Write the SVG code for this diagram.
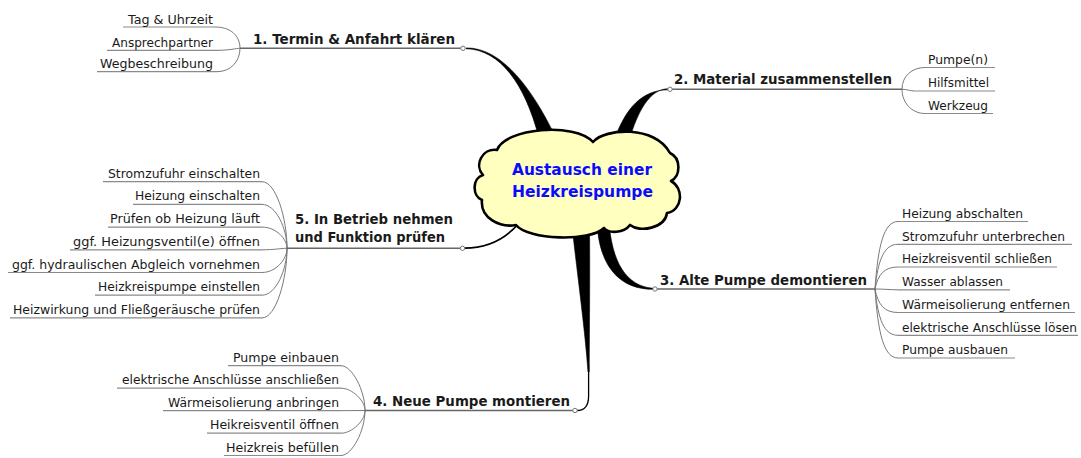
<svg xmlns="http://www.w3.org/2000/svg" width="1081" height="458" viewBox="0 0 1081 458">
<style>
.main{font-family:"DejaVu Sans",Verdana,sans-serif;font-weight:bold;font-size:13.5px;fill:#1a1a1a}
.sub{font-family:"DejaVu Sans",Tahoma,sans-serif;font-size:12px;fill:#1a1a1a}
.ctr{font-family:"DejaVu Sans",Verdana,sans-serif;font-weight:bold;font-size:15px;fill:#0a0aff}
.ul{stroke:#8a8a8a;stroke-width:1.2;fill:none}
.mul{stroke:#666;stroke-width:1.5;fill:none}
.cv{stroke:#7a7a7a;stroke-width:1;fill:none}
.taper{fill:#000;stroke:#000;stroke-width:0.6}
.dot{fill:#fff;stroke:#777;stroke-width:1}
</style>
<rect width="1081" height="458" fill="#fff"/>
<g id="connectors">
  <path class="taper" d="M466,48.7 C500,49.5 525,84 539,138 L556,138 C534,92 503,47.2 466,47.9 Z"/>
  <path class="taper" d="M668,89.8 C642,90 626,108 615,138 L630,138 C637,114 649,88.8 668,88.8 Z"/>
  <path class="taper" d="M597,222 C599,268 621,289.5 653,289.3 L653,288.3 C626,286 612,262 609,222 Z"/>
  <path class="taper" d="M572,226 C578,280 585,330 588,372 L589.2,372 C589.5,320 590,270 589.5,226 Z"/>
  <path d="M588.6,365 L588.6,396 C588.6,405 585,410.5 577,410.5" stroke="#000" stroke-width="1.3" fill="none"/>
  <path d="M464.5,248.2 C488,248 506,238.5 519,223" stroke="#000" stroke-width="1.8" fill="none"/>
  <path class="cv" d="M215,27 C231,27 240,36 240,48.3"/>
  <path class="cv" d="M218,50.3 C230,50.3 236,48.3 240,48.3"/>
  <path class="cv" d="M217,71.7 C231,71.7 240,61 240,48.3"/>
  <path class="cv" d="M902,89.3 C902,76 912,67.5 925,67.5"/>
  <path class="cv" d="M902,89.3 C907,89.3 910,91 915,91"/>
  <path class="cv" d="M902,89.3 C902,103 912,113.5 925,113.5"/>
  <path class="cv" d="M875,289 C878,245.1 884,221.5 898,221.5"/>
  <path class="cv" d="M875,289 C878,259.9 884,244.3 898,244.3"/>
  <path class="cv" d="M875,289 C878,274.7 884,267 898,267"/>
  <path class="cv" d="M875,289 C884,289 890,289.8 898,289.8"/>
  <path class="cv" d="M875,289 C878,304.3 884,312.5 898,312.5"/>
  <path class="cv" d="M875,289 C878,319.1 884,335.3 898,335.3"/>
  <path class="cv" d="M875,289 C878,333.8 884,358 898,358"/>
  <path class="cv" d="M262,181.7 C276,181.7 287,218.3 287,248.3"/>
  <path class="cv" d="M262,204.4 C276,204.4 287,228.5 287,248.3"/>
  <path class="cv" d="M262,227.1 C276,227.1 287,238.8 287,248.3"/>
  <path class="cv" d="M262,249.8 C275,249.8 280,248.3 287,248.3"/>
  <path class="cv" d="M262,272.5 C276,272.5 287,259.2 287,248.3"/>
  <path class="cv" d="M262,295.2 C276,295.2 287,269.4 287,248.3"/>
  <path class="cv" d="M262,317.9 C276,317.9 287,279.6 287,248.3"/>
  <path class="cv" d="M341,365.7 C352,365.7 365,390.3 365,410.5"/>
  <path class="cv" d="M341,388.2 C352,388.2 365,400.5 365,410.5"/>
  <path class="cv" d="M341,410.7 L365,410.5"/>
  <path class="cv" d="M341,433.2 C352,433.2 365,420.7 365,410.5"/>
  <path class="cv" d="M341,455.5 C352,455.5 365,430.8 365,410.5"/>
</g>
<g id="center">
  <path d="M497,150 C505,128 575,122 593,142 C605,128 655,125 670,153 C681,158 681,176 671,181 C684,188 683,210 667,213 C665,228 640,233 630,225 C624,233 609,234 604,228 C590,242 528,240 516,225 C500,228 480,218 482,200 C472,196 472,178 483,175 C474,165 482,148 497,150 Z" fill="#ffffc0" stroke="#000" stroke-width="2.6" stroke-linejoin="round"/>
  <text class="ctr" x="512" y="175" textLength="140" lengthAdjust="spacingAndGlyphs">Austausch einer</text>
  <text class="ctr" x="512" y="197" textLength="141" lengthAdjust="spacingAndGlyphs">Heizkreispumpe</text>
</g>
<g id="branch1">
  <path class="mul" d="M240,48.3 H463"/>
  <text class="main" x="253" y="44" textLength="202" lengthAdjust="spacingAndGlyphs">1. Termin &amp; Anfahrt klären</text>
  <circle class="dot" cx="463" cy="48.3" r="2.2"/>
</g>
<g id="b1-subs">
  <path class="ul" d="M123,27 H215 M107,50.3 H218 M97,71.7 H217"/>
  <text class="sub" x="128" y="23.5" textLength="85" lengthAdjust="spacingAndGlyphs">Tag &amp; Uhrzeit</text>
  <text class="sub" x="112" y="46.5" textLength="101" lengthAdjust="spacingAndGlyphs">Ansprechpartner</text>
  <text class="sub" x="100" y="68" textLength="113" lengthAdjust="spacingAndGlyphs">Wegbeschreibung</text>
</g>
<g id="branch2">
  <path class="mul" d="M670,89.3 H902"/>
  <text class="main" x="674" y="84.3" textLength="218" lengthAdjust="spacingAndGlyphs">2. Material zusammenstellen</text>
  <circle class="dot" cx="670" cy="89.3" r="2.2"/>
</g>
<g id="b2-subs">
  <path class="ul" d="M925,67.5 H995 M915,91 H995 M925,113.5 H993"/>
  <text class="sub" x="928" y="64" textLength="60" lengthAdjust="spacingAndGlyphs">Pumpe(n)</text>
  <text class="sub" x="928" y="87.3" textLength="61" lengthAdjust="spacingAndGlyphs">Hilfsmittel</text>
  <text class="sub" x="928" y="110" textLength="60" lengthAdjust="spacingAndGlyphs">Werkzeug</text>
</g>
<g id="branch3">
  <path class="mul" d="M655,289 H875"/>
  <text class="main" x="660" y="284.5" textLength="207" lengthAdjust="spacingAndGlyphs">3. Alte Pumpe demontieren</text>
  <circle class="dot" cx="655" cy="289" r="2.2"/>
</g>
<g id="b3-subs">
  <path class="ul" d="M898,221.5 H1028 M898,244.3 H1072 M898,267 H1057 M898,289.8 H1010 M898,312.5 H1075 M898,335.3 H1078 M898,358 H1015"/>
  <text class="sub" x="902" y="217.7" textLength="121" lengthAdjust="spacingAndGlyphs">Heizung abschalten</text>
  <text class="sub" x="902" y="240.5" textLength="163" lengthAdjust="spacingAndGlyphs">Stromzufuhr unterbrechen</text>
  <text class="sub" x="902" y="263.2" textLength="150" lengthAdjust="spacingAndGlyphs">Heizkreisventil schließen</text>
  <text class="sub" x="902" y="286" textLength="101" lengthAdjust="spacingAndGlyphs">Wasser ablassen</text>
  <text class="sub" x="902" y="308.7" textLength="168" lengthAdjust="spacingAndGlyphs">Wärmeisolierung entfernen</text>
  <text class="sub" x="902" y="331.5" textLength="175" lengthAdjust="spacingAndGlyphs">elektrische Anschlüsse lösen</text>
  <text class="sub" x="902" y="354.2" textLength="106" lengthAdjust="spacingAndGlyphs">Pumpe ausbauen</text>
</g>
<g id="branch4">
  <path class="mul" d="M365,410.5 H575"/>
  <text class="main" x="373" y="406" textLength="197" lengthAdjust="spacingAndGlyphs">4. Neue Pumpe montieren</text>
  <circle class="dot" cx="575" cy="410.5" r="2.2"/>
</g>
<g id="b4-subs">
  <path class="ul" d="M228,365.7 H341 M117,388.2 H341 M163,410.7 H341 M207,433.2 H341 M224,455.5 H341"/>
  <text class="sub" x="233" y="361.7" textLength="106" lengthAdjust="spacingAndGlyphs">Pumpe einbauen</text>
  <text class="sub" x="122" y="384.2" textLength="217" lengthAdjust="spacingAndGlyphs">elektrische Anschlüsse anschließen</text>
  <text class="sub" x="168" y="406.7" textLength="171" lengthAdjust="spacingAndGlyphs">Wärmeisolierung anbringen</text>
  <text class="sub" x="210" y="429.2" textLength="129" lengthAdjust="spacingAndGlyphs">Heikreisventil öffnen</text>
  <text class="sub" x="226" y="451.5" textLength="113" lengthAdjust="spacingAndGlyphs">Heizkreis befüllen</text>
</g>
<g id="branch5">
  <path class="mul" d="M287,248.3 H462.5"/>
  <text class="main" x="295" y="224" textLength="158" lengthAdjust="spacingAndGlyphs">5. In Betrieb nehmen</text>
  <text class="main" x="295" y="241.7" textLength="150" lengthAdjust="spacingAndGlyphs">und Funktion prüfen</text>
  <circle class="dot" cx="462.5" cy="248.3" r="2.2"/>
</g>
<g id="b5-subs">
  <path class="ul" d="M103,181.7 H262 M133,204.4 H262 M108,227.1 H262 M70,249.8 H262 M8,272.5 H262 M95,295.2 H262 M10,317.9 H262"/>
  <text class="sub" x="108" y="177.7" textLength="152" lengthAdjust="spacingAndGlyphs">Stromzufuhr einschalten</text>
  <text class="sub" x="135" y="200.4" textLength="125" lengthAdjust="spacingAndGlyphs">Heizung einschalten</text>
  <text class="sub" x="110" y="223.1" textLength="150" lengthAdjust="spacingAndGlyphs">Prüfen ob Heizung läuft</text>
  <text class="sub" x="73" y="245.8" textLength="187" lengthAdjust="spacingAndGlyphs">ggf. Heizungsventil(e) öffnen</text>
  <text class="sub" x="12" y="268.5" textLength="248" lengthAdjust="spacingAndGlyphs">ggf. hydraulischen Abgleich vornehmen</text>
  <text class="sub" x="98" y="291.2" textLength="162" lengthAdjust="spacingAndGlyphs">Heizkreispumpe einstellen</text>
  <text class="sub" x="13" y="313.9" textLength="247" lengthAdjust="spacingAndGlyphs">Heizwirkung und Fließgeräusche prüfen</text>
</g>
</svg>
